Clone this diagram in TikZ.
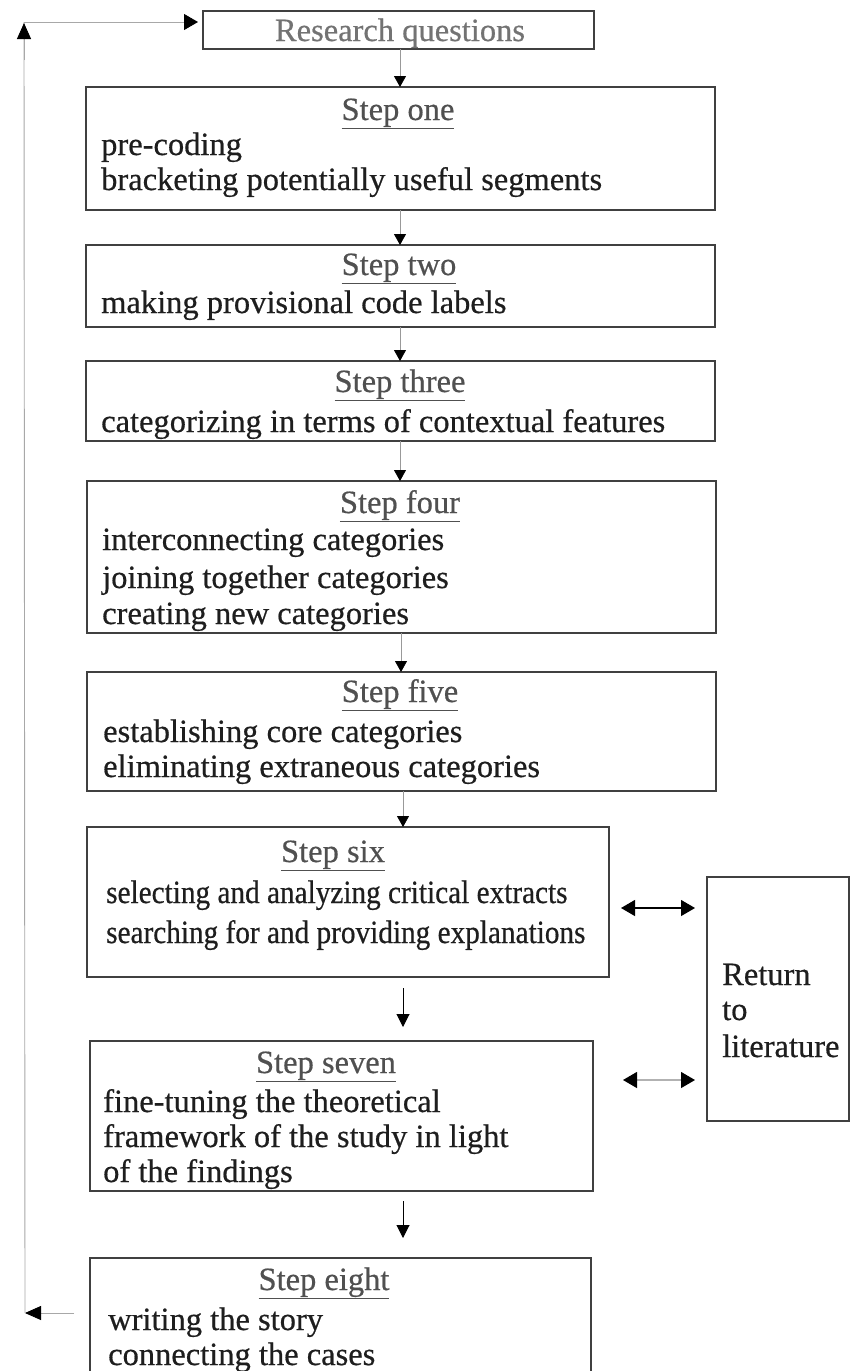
\documentclass[tikz,border=0pt]{standalone}
\usepackage{fontspec}
\setmainfont{Liberation Serif}[FakeBold=0.5]
\newfontfamily\bodyfont[FakeBold=0.5]{Liberation Serif}
\newfontfamily\condfont[FakeStretch=0.9,FakeBold=0.5]{Liberation Serif}
\usetikzlibrary{arrows.meta}
\definecolor{ink}{HTML}{1E1E1E}
\definecolor{headink}{HTML}{505050}
\definecolor{boxline}{HTML}{404040}
\definecolor{loopline}{HTML}{A8A8A8}
\begin{document}
\begin{tikzpicture}[x=1pt,y=-1pt,
  stepbox/.style={draw=boxline, line width=1.6pt, inner sep=0pt, outer sep=0pt},
  body/.style={anchor=base west, inner sep=0pt, text=ink, font=\bodyfont\fontsize{32.5}{36}\selectfont},
  cbody/.style={anchor=base west, inner sep=0pt, text=ink, font=\condfont\fontsize{32.5}{36}\selectfont},
  head/.style={anchor=base, inner sep=0pt, text=headink, font=\bodyfont\fontsize{32.5}{36}\selectfont},
  flow/.style={draw=gray!80, line width=0.8pt, -{Triangle[length=11pt,width=12pt,color=black]}},
  flowdark/.style={draw=black, line width=1pt, -{Triangle[length=13pt,width=13pt,color=black]}},
  dbl/.style={line width=1.2pt, {Triangle[length=14pt,width=16pt,color=black]}-{Triangle[length=14pt,width=16pt,color=black]}},
  loopln/.style={draw=loopline, line width=0.9pt},
  loophead/.style={-{Triangle[length=16pt,width=14pt,color=black]}}
]
\useasboundingbox (0,0) rectangle (850,1371);
\fill[white] (0,0) rectangle (850,1371);
\clip (0,0) rectangle (850,1371);

% boxes
\node[stepbox, minimum width=391pt, minimum height=38pt] (rq) at (398.5,30) {};
\node[stepbox, minimum width=629pt, minimum height=123pt] (s1) at (400.5,148.5) {};
\node[stepbox, minimum width=629pt, minimum height=82pt] (s2) at (400.5,286) {};
\node[stepbox, minimum width=629pt, minimum height=80pt] (s3) at (400.5,401) {};
\node[stepbox, minimum width=629pt, minimum height=152pt] (s4) at (401.5,557) {};
\node[stepbox, minimum width=629pt, minimum height=119pt] (s5) at (401.5,731.5) {};
\node[stepbox, minimum width=522pt, minimum height=150pt] (s6) at (348,902) {};
\node[stepbox, minimum width=503pt, minimum height=150pt] (s7) at (341.5,1116) {};
\node[stepbox, minimum width=501pt, minimum height=132pt] (s8) at (340.5,1324) {};
\node[stepbox, minimum width=142pt, minimum height=244pt] (ret) at (778,999) {};

% texts
\node[head, text=headink!80] (trq) at (400,41) {Research questions};

\node[head] (h1) at (398,120) {\underline{Step one}};
\node[body] (t1a) at (101,155) {pre-coding};
\node[body] (t1b) at (101,190) {bracketing potentially useful segments};

\node[head] (h2) at (399,275) {\underline{Step two}};
\node[body] (t2a) at (101,313) {making provisional code labels};

\node[head] (h3) at (400,392) {\underline{Step three}};
\node[body] (t3a) at (101,432) {categorizing in terms of contextual features};

\node[head] (h4) at (400,513) {\underline{Step four}};
\node[body] (t4a) at (102,550) {interconnecting categories};
\node[body] (t4b) at (102,588) {joining together categories};
\node[body] (t4c) at (102,624) {creating new categories};

\node[head] (h5) at (400,702) {\underline{Step five}};
\node[body] (t5a) at (103,742) {establishing core categories};
\node[body] (t5b) at (103,777) {eliminating extraneous categories};

\node[head] (h6) at (333,862) {\underline{Step six}};
\node[cbody] (t6a) at (106,903) {selecting and analyzing critical extracts};
\node[cbody] (t6b) at (106,943) {searching for and providing explanations};

\node[head] (h7) at (326,1073) {\underline{Step seven}};
\node[body] (t7a) at (103,1112) {fine-tuning the theoretical};
\node[body] (t7b) at (103,1147) {framework of the study in light};
\node[body] (t7c) at (103,1182) {of the findings};

\node[head] (h8) at (324,1290) {\underline{Step eight}};
\node[body] (t8a) at (108,1330) {writing the story};
\node[body] (t8b) at (108,1365) {connecting the cases};

\node[body] (tr1) at (722,985) {Return};
\node[body] (tr2) at (722,1020) {to};
\node[body] (tr3) at (722,1057) {literature};

% vertical flow
\draw[flow] (rq.south -| 400,0) -- (s1.north -| 400,0);
\draw[flow] (s1.south -| 400,0) -- (s2.north -| 400,0);
\draw[flow] (s2.south -| 400,0) -- (s3.north -| 400,0);
\draw[flow] (s3.south -| 400,0) -- (s4.north -| 400,0);
\draw[flow] (s4.south -| 401,0) -- (s5.north -| 401,0);
\draw[flow] (s5.south -| 403,0) -- (s6.north -| 403,0);
\draw[flowdark, shorten <=11pt, shorten >=14pt] (s6.south -| 403,0) -- (s7.north -| 403,0);
\draw[flowdark, shorten <=10pt, shorten >=20pt] (s7.south -| 403,0) -- (s8.north -| 403,0);

% return to literature
\draw[dbl, draw=black, shorten <=12pt, shorten >=12pt] (s6.east |- 0,908) -- (ret.west |- 0,908);
\draw[dbl, draw=gray!60, shorten <=30pt, shorten >=12pt] (s7.east |- 0,1080) -- (ret.west |- 0,1080);

% feedback loop
\coordinate (lb) at (25,1313);
\coordinate (lt) at (24,22);
\draw[loopln, shorten <=16pt, -{Triangle[length=16pt,width=14pt,color=black]}] (s8.west |- lb) -- (lb);
\draw[loopln] (lb) -- (lt);
\draw[loopln, loophead] (24,60) -- (24,23);
\draw[loopln, shorten >=5pt, -{Triangle[length=14pt,width=16pt,color=black]}] (lt) -- (rq.west |- lt);
\end{tikzpicture}
\end{document}
